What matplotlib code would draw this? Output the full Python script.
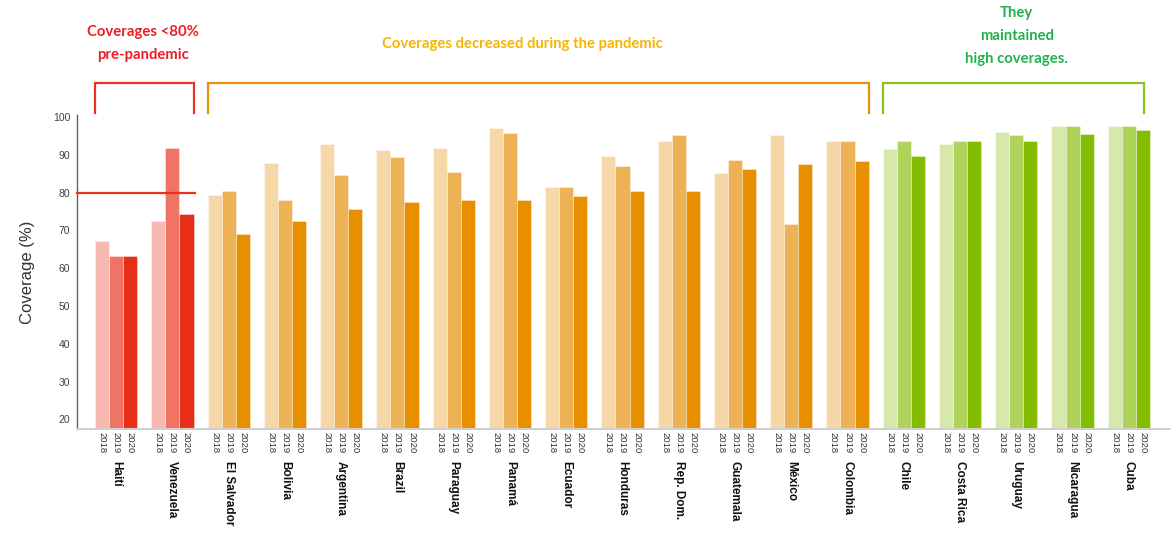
import matplotlib
matplotlib.use("Agg")
import matplotlib.pyplot as plt
import numpy as np

# Coverage (%) by country and year
countries = ["Haití", "Venezuela", "El Salvador", "Bolivia", "Argentina", "Brazil",
             "Paraguay", "Panamá", "Ecuador", "Honduras", "Rep. Dom.", "Guatemala",
             "México", "Colombia", "Chile", "Costa Rica", "Uruguay", "Nicaragua", "Cuba"]
years = ["2018", "2019", "2020"]
cov_2018 = [67.3, 72.5, 79.4, 87.9, 92.8, 91.2, 91.9, 97.0, 81.6, 89.7, 93.7, 85.3,
            95.2, 93.7, 91.5, 92.9, 96.0, 97.7, 97.7]
cov_2019 = [63.3, 91.9, 80.5, 78.0, 84.6, 89.3, 85.4, 95.7, 81.6, 87.1, 95.2, 88.5,
            71.8, 93.7, 93.7, 93.7, 95.1, 97.7, 97.7]
cov_2020 = [63.3, 74.3, 69.1, 72.6, 75.6, 77.6, 78.1, 78.1, 79.1, 80.3, 80.3, 86.3,
            87.5, 88.3, 89.8, 93.7, 93.7, 95.6, 96.6]
# group of each country: 0 = below 80% pre-pandemic, 1 = decreased, 2 = maintained
group = [0, 0] + [1] * 12 + [2] * 5

palettes = {
    0: ["#F6B8B0", "#EF7466", "#E62E18"],
    1: ["#F6D8A8", "#EEB256", "#E88F00"],
    2: ["#D6E8AC", "#AED25A", "#84BC00"],
}
bracket_colors = {0: "#E8321E", 1: "#E8900A", 2: "#8CC21E"}

fig = plt.figure(figsize=(11.71, 5.40), dpi=100)
ax = fig.add_axes([0.0658, 0.2052, 0.9342, 0.5817])

w = 0.25
x = np.arange(len(countries))
series = [cov_2018, cov_2019, cov_2020]
for j, vals in enumerate(series):
    cols = [palettes[g][j] for g in group]
    ax.bar(x + (j - 1) * w, vals, width=w, color=cols,
           edgecolor=(1, 1, 1, 0.45), linewidth=0.6, zorder=2)

ax.set_xlim(-0.695, 18.75)
ax.set_ylim(17.4, 100.5)

# axes styling
for s in ["top", "right"]:
    ax.spines[s].set_visible(False)
ax.spines["left"].set_color("#606060")
ax.spines["left"].set_linewidth(1.0)
ax.spines["bottom"].set_color("#D0D0D0")
ax.spines["bottom"].set_linewidth(1.5)
ax.set_yticks(np.arange(20, 101, 10))
ax.tick_params(axis="y", length=0, labelsize=7.5, labelcolor="#404040", pad=5)
ax.set_xticks([])
ax.set_ylabel("Coverage (%)", fontsize=12, color="#333333", labelpad=13,
              family="Liberation Sans")
for lab in ax.get_yticklabels():
    lab.set_family("Liberation Sans")

# year labels under each bar and country names under each group
for i in range(len(countries)):
    for j, yr in enumerate(years):
        ax.text(i + (j - 1) * w, 16.6, yr, rotation=-90, ha="center", va="top",
                fontsize=6.8, color="#333333", family="Liberation Sans")
    ax.text(i, 9.0, countries[i], rotation=-90, ha="center", va="top",
            fontsize=8.5, fontweight="bold", color="#111111",
            family="Liberation Sans")

# 80% reference line for the first group
ax.plot([-0.695, 1.4], [80, 80], color="#E8321E", lw=1.6, zorder=3, clip_on=False)

# brackets above each group
spans = {0: (-0.375, 1.375), 1: (1.625, 13.375), 2: (13.625, 18.27)}
for g, (a, b) in spans.items():
    ax.plot([a, a, b, b], [101.1, 109.0, 109.0, 101.1], color=bracket_colors[g],
            lw=1.6, clip_on=False, solid_joinstyle="miter")

title_font = dict(family="Lato", fontweight="bold", fontsize=10.7, ha="center",
                  va="center")
ax.text(0.47, 122.5, "Coverages <80%", color="#EE1C25", **title_font)
ax.text(0.47, 116.4, "pre-pandemic", color="#EE1C25", **title_font)
ax.text(7.22, 119.3, "Coverages decreased during the pandemic", color="#F7B500",
        **title_font)
ax.text(16.01, 127.5, "They", color="#22B14C", **title_font)
ax.text(16.01, 121.5, "maintained", color="#22B14C", **title_font)
ax.text(16.01, 115.3, "high coverages.", color="#22B14C", **title_font)

fig.savefig("out.png", dpi=100)
